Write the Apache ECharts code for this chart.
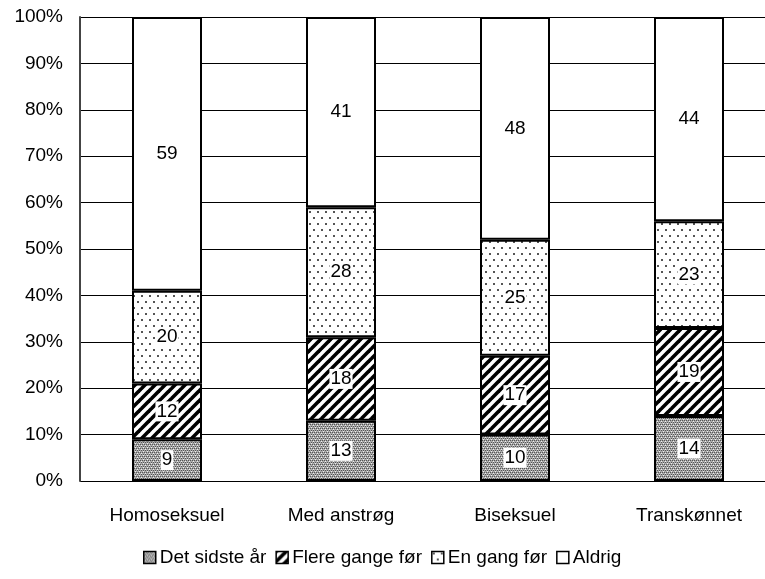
<!DOCTYPE html>
<html><head><meta charset="utf-8">
<script src="https://cdn.jsdelivr.net/npm/echarts@6/dist/echarts.min.js"></script>
<style>html,body{margin:0;padding:0;background:#fff;overflow:hidden}#c{width:776px;height:579px}</style>
</head><body><div id="c"></div>
<script>
var categories = ['Homoseksuel', 'Med anstrøg', 'Biseksuel', 'Transkønnet'];
var seriesNames = ['Det sidste år', 'Flere gange før', 'En gang før', 'Aldrig'];
var detSidsteAar = [9, 13, 10, 14];
var flereGange = [12, 18, 17, 19];
var enGang = [20, 28, 25, 23];
var aldrig = [59, 41, 48, 44];
var yTicks = [0, 10, 20, 30, 40, 50, 60, 70, 80, 90, 100];

function mk(w, h, draw) {
  var c = document.createElement('canvas'); c.width = w; c.height = h;
  var g = c.getContext('2d'); g.fillStyle = '#fff'; g.fillRect(0, 0, w, h); draw(g); return c;
}
var pDense = mk(4, 4, function (g) {
  g.fillStyle = '#aaa'; g.fillRect(0, 0, 4, 4);
  g.fillStyle = '#555'; g.fillRect(0, 0, 1, 1); g.fillRect(2, 0, 1, 1); g.fillRect(1, 2, 1, 1); g.fillRect(3, 2, 1, 1);
  g.fillStyle = '#eee'; g.fillRect(1, 1, 1, 1); g.fillRect(3, 3, 1, 1);
});
var pStripe = mk(10, 10, function (g) {
  g.strokeStyle = '#000'; g.lineWidth = 3.6;
  [-10, 0, 10].forEach(function (o) { g.beginPath(); g.moveTo(o - 1, 11); g.lineTo(o + 11, -1); g.stroke(); });
});
var pDots = mk(8, 12, function (g) {
  g.fillStyle = '#555';
  g.fillRect(1, 1, 2, 2); g.fillRect(5, 7, 2, 2);
});
var fills = [
  { image: pDense, repeat: 'repeat' },
  { image: pStripe, repeat: 'repeat' },
  { image: pDots, repeat: 'repeat' },
  '#ffffff'
];
var dataArr = [detSidsteAar, flereGange, enGang, aldrig];
var font = 'Liberation Sans, Arial, sans-serif';
var fs = 19;
var series = seriesNames.map(function (n, i) {
  return {
    name: n, type: 'bar', stack: 'a', data: dataArr[i], barWidth: 70,
    itemStyle: { color: fills[i], borderColor: '#000', borderWidth: 2 },
    label: {
      show: true, position: 'inside', color: '#000', fontFamily: font, fontSize: fs,
      backgroundColor: '#fff', padding: [1, 1, 0, 1]
    }
  };
});
var chart = echarts.init(document.getElementById('c'), null, { renderer: 'canvas' });
chart.setOption({
  animation: false,
  grid: { left: 80, top: 17, right: 0, height: 464, containLabel: false },
  xAxis: {
    type: 'category', data: categories,
    axisLine: { show: false }, axisTick: { show: false },
    axisLabel: { color: '#000', fontFamily: font, fontSize: fs, margin: 25 }
  },
  yAxis: {
    type: 'value', min: 0, max: 100, interval: 10,
    axisLine: { show: true, lineStyle: { color: '#444', width: 2 } },
    axisTick: { show: false },
    axisLabel: { color: '#000', fontFamily: font, fontSize: fs, margin: 17, formatter: function (v) { return v + '%'; } },
    splitLine: { show: true, lineStyle: { color: '#000', width: 1 } }
  },
  legend: {
    bottom: 7, left: 138, itemWidth: 12, itemHeight: 12, itemGap: 9,
    icon: 'rect',
    itemStyle: { borderColor: '#000', borderWidth: 1.5 },
    textStyle: { color: '#000', fontFamily: font, fontSize: fs, padding: [0, 0, 0, -1] },
    data: seriesNames
  },
  series: series
});
</script></body></html>
